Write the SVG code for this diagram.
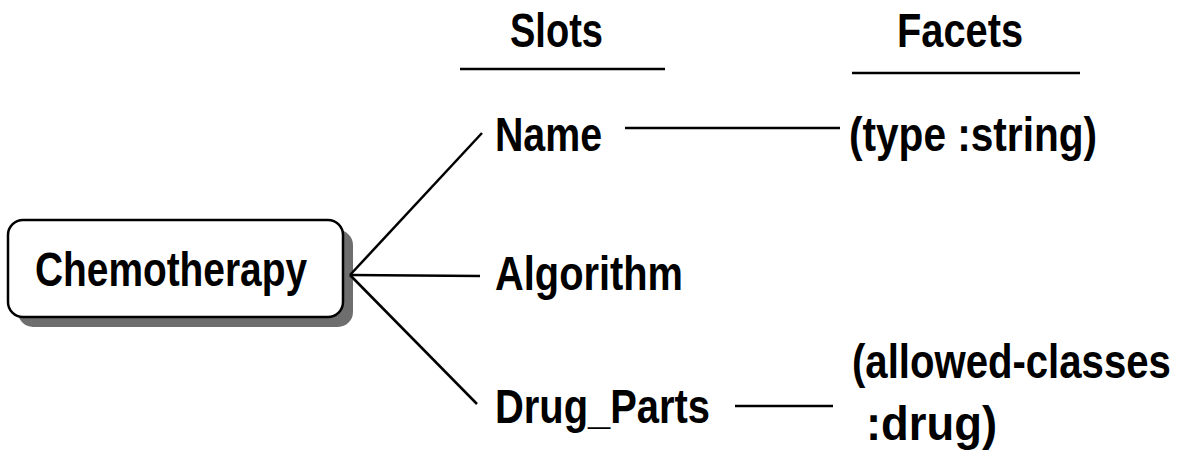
<svg xmlns="http://www.w3.org/2000/svg" width="1178" height="457" viewBox="0 0 1178 457">
  <style>
    .t { font-family: "Liberation Sans", Arial, sans-serif; font-weight: bold; font-size: 48px; fill: #000; }
    .ln { stroke: #000; stroke-width: 2.5; fill: none; }
  </style>
  <rect width="1178" height="457" fill="#fff"/>

  <!-- column headers -->
  <g id="header-slots">
    <text class="t" x="510" y="47" textLength="93" lengthAdjust="spacingAndGlyphs">Slots</text>
    <line class="ln" x1="460" y1="69" x2="665" y2="69"/>
  </g>
  <g id="header-facets">
    <text class="t" x="897" y="47" textLength="126" lengthAdjust="spacingAndGlyphs">Facets</text>
    <line class="ln" x1="852" y1="73" x2="1080" y2="73"/>
  </g>

  <!-- frame -->
  <g id="chemotherapy">
    <rect x="18" y="230" width="335" height="97" rx="15" fill="#6e6e6e"/>
    <rect x="8" y="220" width="335" height="97" rx="15" fill="#fff" stroke="#000" stroke-width="2.5"/>
    <text class="t" x="35" y="286" font-size="50" textLength="272" lengthAdjust="spacingAndGlyphs">Chemotherapy</text>
  </g>

  <!-- slots -->
  <g id="slot-name">
    <text class="t" x="495" y="151" textLength="107" lengthAdjust="spacingAndGlyphs">Name</text>
  </g>
  <g id="slot-algorithm">
    <text class="t" x="495" y="290" textLength="188" lengthAdjust="spacingAndGlyphs">Algorithm</text>
  </g>
  <g id="slot-drug-parts">
    <text class="t" x="495" y="423" textLength="215" lengthAdjust="spacingAndGlyphs">Drug_Parts</text>
  </g>

  <!-- facets -->
  <g id="facet-type-string">
    <text class="t" x="849" y="151" textLength="248" lengthAdjust="spacingAndGlyphs">(type :string)</text>
  </g>
  <g id="facet-allowed-classes">
    <!-- condensed horizontally to fit the right margin -->
    <text class="t" transform="translate(852 378) scale(0.836 1)">(allowed-classes</text>
    <text class="t" x="866" y="440" textLength="131" lengthAdjust="spacingAndGlyphs">:drug)</text>
  </g>

  <!-- connectors -->
  <g id="connectors" class="ln">
    <line x1="350" y1="275" x2="482" y2="133"/>
    <line x1="350" y1="275" x2="480" y2="276"/>
    <line x1="350" y1="275" x2="477" y2="404"/>
    <line x1="625" y1="128" x2="840" y2="128"/>
    <line x1="735" y1="406" x2="833" y2="406"/>
  </g>
</svg>
